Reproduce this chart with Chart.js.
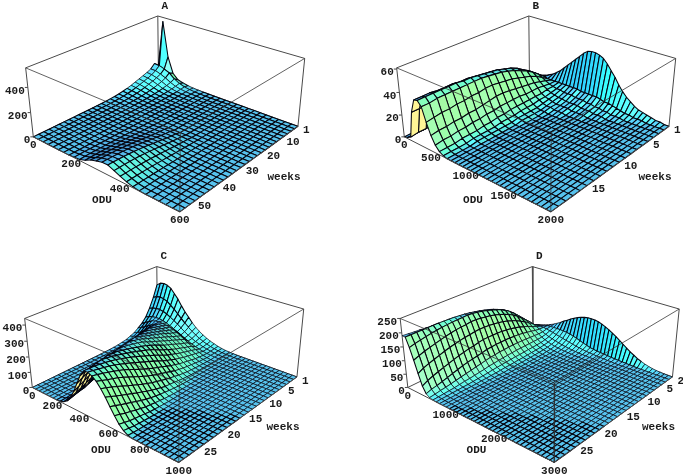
<!DOCTYPE html>
<html><head><meta charset="utf-8">
<script src="https://cdn.jsdelivr.net/npm/chart.js@4/dist/chart.umd.min.js"></script>
<style>html,body{margin:0;padding:0;background:#fff;overflow:hidden}
canvas{position:absolute;display:block}</style></head><body>
<canvas id="pA" width="341" height="238" style="left:0;top:0"></canvas>
<canvas id="pB" width="341" height="238" style="left:342px;top:0"></canvas>
<canvas id="pC" width="341" height="238" style="left:0;top:238px"></canvas>
<canvas id="pD" width="341" height="238" style="left:342px;top:238px"></canvas>
<script>
// rows = weeks (first to last), columns = ODU grid steps; omitted trailing values are 0
const titleA='A',weekRangeA=[1,55],oduMaxA=600,zMaxA=550,oduColsA=25;
const oduTicksA=[0,200,400,600],weekTicksA=[1,10,20,30,40,50],zTicksA=[0,200,400];
const surfaceA=[
[100,515,210,75,30,18,9,4,2,1],
[135,130,115,95,55,30,15,8,4,2,1],
[100,100,85,65,40,22,12,6,3,1],
[85,80,68,50,30,16,8,4,2,1],
[72,66,55,38,22,12,6,3,1],
[60,54,44,29,16,8,4,2,1],
[48,42,33,21,11,6,3,1],
[36,32,24,15,8,4,2,1],
[26,22,16,10,5,2,1],
[18,15,11,6,3,1],
[12,10,7,4,2,1],
[8,6,4,2,1],
[5,4,2,1],
[3,2,1,1],
[2,1,1,0,0,0,0,0,1,2,3,5,8,10,10,8,5,3,1],
[1,1,0,0,0,0,0,0,1,2,4,7,11,14,15,12,8,4,2,1],
[1,0,0,0,0,0,0,0,1,3,6,10,15,20,21,17,11,6,2,1],
[0,0,0,0,0,0,0,0,2,4,8,14,21,27,28,23,15,8,3,1],
[0,0,0,0,0,0,0,0,2,5,11,18,27,34,35,29,19,10,4,1],
[0,0,0,0,0,0,0,0,3,6,14,23,33,41,42,35,23,12,5,2],
[0,0,0,0,0,0,0,0,3,8,17,28,39,48,49,40,27,14,5,2],
[0,0,0,0,0,0,0,0,4,9,20,32,45,55,56,45,30,16,6,2],
[0,0,0,0,0,0,0,0,4,10,22,36,50,61,62,50,33,18,7,2],
[0,0,0,0,0,0,0,0,5,11,24,39,54,66,68,54,36,20,7,2],
[0,0,0,0,0,0,0,0,5,11,25,42,58,70,72,57,38,21,8,2],
[0,0,0,0,0,0,0,0,5,12,26,44,61,73,75,59,39,22,8,2],
[0,0,0,0,0,0,0,0,6,12,27,46,63,75,77,60,40,22,8,2],
[0,0,0,0,0,0,0,0,6,12,27,47,65,77,79,60,40,22,8,2],
[0,0,0,0,0,0,0,0,6,10,26,50,66,78,80,60,40,22,8,2]];

const titleB='B',weekRangeB=[1,20],oduMaxB=2000,zMaxB=61,oduColsB=36;
const oduTicksB=[0,500,1000,1500,2000],weekTicksB=[1,5,10,15],zTicksB=[0,20,40,60];
const surfaceB=[
[0,1,2,3,5,7,9,11,14,17,21,25,29,33,37,41,44,45,45,44,42,38,33,28,22,17,13,10,7,5,4,3,2,1,1],
[0,1,3,6,9,10,10,9,9,9,9,9,9,9,9,9,8,8,8,8,8,7,6,6,5,4,3,2,2,1,1,1],
[0,1,4,10,14,15,15,13,11,9,8,7,7,6,6,6,5,5,5,4,4,3,3,2,2,1,1,1],
[0,1,5,13,18,20,20,17,13,10,8,6,5,4,4,3,3,3,3,2,2,2,1,1,1],
[0,2,6,16,22,24,24,20,15,11,7,5,4,3,2,2,2,2,1,1,1,1],
[0,2,7,19,26,28,27,22,16,11,7,5,3,2,2,1,1,1],
[0,2,8,21,29,31,30,24,17,11,7,4,2,1,1],
[0,2,8,23,31,33,32,26,18,12,7,4,2,1],
[0,2,8,24,33,35,34,27,19,12,7,4,2,1],
[0,2,8,25,34,36,35,28,20,12,7,3,2,1],
[0,2,8,26,35,37,36,29,20,12,6,3,1],
[0,2,7,27,36,38,37,29,19,11,6,3,1],
[0,1,7,27,37,39,37,28,18,11,5,2,1],
[0,1,6,27,37,39,37,28,17,10,5,2,1],
[0,1,6,27,38,40,37,27,17,10,4,2,1],
[0,1,5,27,38,40,37,27,16,9,4,2,1],
[0,1,5,27,38,40,37,26,16,9,4,1],
[0,1,4,27,39,40,37,26,15,8,3,1],
[0,1,4,27,39,40,36,25,15,8,3,1],
[0,1,3,27,39,40,36,24,14,7,3,1]];

const titleC='C',weekRangeC=[1,29],oduMaxC=1000,zMaxC=440,oduColsC=36;
const oduTicksC=[0,200,400,600,800,1000],weekTicksC=[1,5,10,15,20,25],zTicksC=[0,100,200,300,400];
const surfaceC=[
[310,330,335,330,315,285,255,215,180,150,120,95,75,58,44,32,23,15,9,5,3,1],
[230,245,250,245,235,215,195,170,145,122,100,80,63,48,36,26,18,12,7,4,2,1],
[165,175,180,180,175,165,150,135,118,100,82,66,52,40,30,22,15,10,6,3,2,1],
[113,125,132,135,135,130,122,112,100,87,73,60,48,37,28,20,14,9,6,3,2,1],
[80,95,110,125,132,135,133,129,124,115,104,90,75,60,45,32,21,11,5,1],
[59,72,86,103,119,133,141,138,133,126,116,102,88,72,56,41,28,15,8,3,1],
[38,48,62,80,105,130,148,146,142,137,127,114,100,83,66,50,35,19,10,4,1],
[27,35,46,64,90,121,147,156,153,148,140,127,113,96,77,59,42,26,15,6,2],
[16,21,30,48,76,112,145,165,163,158,152,140,125,109,87,68,49,33,19,8,2],
[11,15,21,37,62,97,134,162,172,168,163,152,138,121,100,79,59,40,24,11,4,1],
[6,8,12,25,47,81,122,158,180,177,173,164,151,133,113,90,68,47,29,14,5,1],
[4,6,9,18,36,66,106,146,177,187,184,176,164,149,128,103,80,57,36,19,8,2],
[2,3,5,10,24,51,89,134,173,197,194,188,176,164,142,116,91,67,43,24,11,3],
[1,2,4,7,18,40,73,116,160,193,205,200,190,178,158,132,106,80,54,32,16,5],
[0,0,2,4,11,28,56,97,146,189,215,212,204,191,174,148,120,92,64,39,21,7],
[0,0,2,3,9,21,45,83,130,176,209,219,213,201,186,161,135,104,74,48,25,11,2],
[0,0,1,2,6,14,34,68,113,163,203,226,221,211,197,174,149,115,84,57,29,14,3],
[0,0,1,2,4,11,27,55,96,145,191,223,228,220,208,188,162,129,97,67,38,19,6,1],
[0,0,0,1,2,7,19,42,78,127,179,219,234,229,218,201,175,142,109,76,47,24,8,1],
[0,0,0,1,2,5,15,34,65,111,163,209,235,237,228,213,189,158,124,89,57,31,13,3],
[0,0,0,0,1,3,10,25,52,94,146,198,235,245,237,224,203,173,138,101,67,37,17,4],
[0,0,0,0,1,2,7,19,40,77,126,181,226,249,246,235,215,189,154,115,80,47,23,7,1],
[0,0,0,0,0,1,4,12,28,59,106,163,217,253,254,245,227,204,170,129,92,57,28,10,1],
[0,0,0,0,0,1,3,9,21,47,88,141,199,243,260,253,238,216,185,144,106,69,37,15,3],
[0,0,0,0,0,1,2,5,13,34,69,119,180,233,265,260,248,228,199,159,119,80,45,20,5],
[0,0,0,0,0,1,2,4,11,28,59,105,164,220,260,265,256,238,210,174,132,92,55,25,8,1],
[0,0,0,0,0,0,1,3,8,22,49,90,147,207,254,270,263,248,221,188,145,104,64,30,11,1],
[0,0,0,0,0,0,1,2,6,18,40,77,131,192,245,272,270,257,233,201,160,117,76,39,17,4],
[0,0,0,0,0,0,0,1,4,13,31,64,115,176,235,274,276,265,245,213,174,129,87,48,22,6]];

const titleD='D',weekRangeD=[2,29],oduMaxD=3000,zMaxD=250,oduColsD=40;
const oduTicksD=[0,1000,2000,3000],weekTicksD=[2,5,10,15,20,25],zTicksD=[0,50,100,150,200,250];
const surfaceD=[
[5,8,12,17,24,30,37,44,52,60,70,78,87,95,102,108,112,115,116,115,113,108,102,95,87,78,68,58,48,38,30,22,16,11,7,4,2,1],
[8,15,25,30,33,37,40,41,42,42,42,41,40,38,34,30,25,21,16,12,10,8,7,6,5,4,3,2,2,1,1],
[18,28,34,38,40,41,41,39,36,34,30,27,24,21,18,15,12,10,8,6,5,4,3,2,2,1,1],
[55,58,60,58,54,48,42,35,30,25,21,17,14,11,9,7,5,4,3,2,2,1,1],
[72,76,78,74,66,56,45,35,27,21,16,12,9,7,5,4,3,2,1,1],
[90,95,96,90,79,65,50,37,26,18,13,9,6,4,3,2,1,1],
[105,112,113,105,90,72,54,38,26,17,11,7,5,3,2,1,1],
[118,127,128,118,100,79,58,40,26,16,10,6,3,2,1,1],
[127,138,140,128,108,84,61,41,26,16,9,5,3,2,1],
[135,147,150,137,115,89,63,42,26,15,8,4,2,1],
[142,155,158,144,120,92,65,42,26,14,7,4,2,1],
[148,162,165,150,124,95,66,42,25,14,7,3,1],
[153,167,170,155,127,96,66,41,24,13,6,3,1],
[157,172,175,158,130,97,66,41,23,12,5,2,1],
[161,176,179,161,131,97,65,39,22,11,5,2,1],
[165,180,182,163,132,97,64,38,20,10,4,1],
[168,183,184,164,131,94,60,35,19,9,3,1],
[171,185,183,161,128,90,57,32,16,7,3,1],
[173,187,183,160,126,88,54,29,14,6,2,1],
[175,188,182,158,123,84,51,26,12,5,2],
[177,189,181,155,119,80,47,23,10,4,1],
[179,190,179,151,115,75,42,20,9,3,1],
[181,190,177,147,110,69,37,17,7,3,1],
[183,190,174,142,104,64,32,14,5,2,1],
[185,190,171,137,98,58,27,11,4,2],
[186,190,167,132,92,52,22,9,3,1],
[188,190,163,125,85,45,18,6,2,1],
[190,190,158,118,75,35,12,4,1]];

// camera: screen position of the eight box corners (u=ODU, w=weeks, h=height) for the first panel
const corners=[[0,1,0,33.3,136.7],[0,1,1,25.7,68.3],[1,0,0,297.7,126],[1,0,1,305,59],
[1,1,0,180,212.3],[1,1,1,180,131.7],[0,0,1,157.7,15.7],[0,0,0,158.5,76]];
function solveCamera(){
  const N=11,A=Array.from({length:N},()=>new Array(N+1).fill(0));
  const add=(r,b)=>{for(let i=0;i<N;i++){for(let k=0;k<N;k++)A[i][k]+=r[i]*r[k];A[i][N]+=r[i]*b;}};
  corners.forEach(([u,w,h,x,y])=>{
    add([u,w,h,1,0,0,0,0,-x*u,-x*w,-x*h],x);
    add([0,0,0,0,u,w,h,1,-y*u,-y*w,-y*h],y);
  });
  for(let c=0;c<N;c++){
    let p=c;for(let r=c+1;r<N;r++)if(Math.abs(A[r][c])>Math.abs(A[p][c]))p=r;
    [A[c],A[p]]=[A[p],A[c]];
    for(let r=0;r<N;r++){if(r===c)continue;const f=A[r][c]/A[c][c];for(let k=c;k<=N;k++)A[r][k]-=f*A[c][k];}
  }
  return A.map((row,i)=>row[N]/row[i]);
}
const P=solveCamera();
function project(u,w,h){
  const d=P[8]*u+P[9]*w+P[10]*h+1;
  return [(P[0]*u+P[1]*w+P[2]*h+P[3])/d,(P[4]*u+P[5]*w+P[6]*h+P[7])/d];
}
const vV=[.52,.655,.543];
const dot=(a,b)=>a[0]*b[0]+a[1]*b[1]+a[2]*b[2];
function shade(a,b,c,d){
  const m=p=>[p[0],p[1],p[2]*.4];
  const A=m(a),B=m(b),C=m(c),D=m(d);
  const e=[C[0]-A[0],C[1]-A[1],C[2]-A[2]],f=[D[0]-B[0],D[1]-B[1],D[2]-B[2]];
  let n=[e[1]*f[2]-e[2]*f[1],e[2]*f[0]-e[0]*f[2],e[0]*f[1]-e[1]*f[0]];
  const L=Math.hypot(...n)||1;n=n.map(v=>v/L);
  if(n[2]<0)n=n.map(v=>-v);
  if(dot(n,vV)<0)return 'rgb(255,245,150)'; // seen from below
  const [nu,nw,nh]=n;
  const pu=Math.max(0,nu),qu=Math.min(0,nu),pw=Math.max(0,nw),qw=Math.min(0,nw);
  const cl=x=>Math.round(255*Math.min(1,Math.max(0,x)));
  const r=.34*nh+.6*nu*Math.abs(nu)+.12*pw;
  const g=Math.min(.76*nh+.75*pu+.4*qu+.7*pw+.15*qw,.85+pu);
  const bl=.93*Math.pow(nh,2.4)+.65*pu*pu+1.0*pw+.3*qw+.25*Math.abs(qw);
  return `rgb(${cl(r)},${cl(g)},${cl(bl)})`;
}
const LABEL_FONT='bold 11px "Liberation Mono", monospace';
function panel(id,shift,origin,title,surface,oduCols,oduMax,weekRange,zMax,oduTicks,weekTicks,zTicks){
  const sx=shift[0]-origin[0],sy=shift[1]-origin[1];
  const pt=(u,w,h)=>{const q=project(u,w,h);return {x:q[0]+sx,y:q[1]+sy};};
  const rows=surface.length,cols=oduCols+1;
  const cell=(i,j)=>[j/oduCols,i/(rows-1),((surface[i][j])||0)/zMax];
  const back=[],mid=[],front=[];
  const seg=(list,a,b,col,lw)=>list.push({data:[a,b],showLine:true,borderColor:col,borderWidth:lw,pointRadius:0,fill:false,clip:false});
  const BOX='#4a4a4a';
  seg(back,pt(0,1,1),pt(0,0,1),BOX,1);seg(back,pt(0,0,1),pt(1,0,1),BOX,1);
  seg(back,pt(0,0,1),pt(0,0,0),BOX,1);seg(back,pt(0,1,1),pt(0,1,0),BOX,1);seg(back,pt(1,0,1),pt(1,0,0),BOX,1);
  seg(back,pt(0,1,0),pt(0,0,0),BOX,1);seg(back,pt(1,0,0),pt(0,0,0),BOX,1);
  for(let i=0;i<rows-1;i++)for(let j=0;j<cols-1;j++){
    const a=cell(i,j),b=cell(i,j+1),c=cell(i+1,j+1),d=cell(i+1,j);
    const poly=[a,b,c,d,a].map(p=>pt(p[0],p[1],p[2]));
    const span=Math.max(Math.hypot(poly[0].x-poly[2].x,poly[0].y-poly[2].y),Math.hypot(poly[1].x-poly[3].x,poly[1].y-poly[3].y));
    mid.push({data:poly,showLine:true,fill:'shape',backgroundColor:shade(a,b,c,d),borderColor:'#05050f',borderWidth:span<9?.7:1.05,
      borderJoinStyle:'round',pointRadius:0,clip:false});
  }
  const FR='rgba(45,45,45,.75)';
  seg(front,pt(0,1,1),pt(1,1,1),FR,1);seg(front,pt(1,0,1),pt(1,1,1),FR,1);seg(front,pt(1,1,1),pt(1,1,0),FR,1);
  seg(front,pt(0,1,0),pt(1,1,0),BOX,1);seg(front,pt(1,0,0),pt(1,1,0),BOX,1);
  zTicks.forEach(z=>{const a=pt(0,1,z/zMax);seg(front,a,{x:a.x-3,y:a.y},BOX,1);});
  // first dataset is painted last
  const datasets=[...back,...mid,...front].reverse();
  const labels={id:'labels',afterDatasetsDraw(ch){
    const g=ch.ctx;g.save();g.font=LABEL_FONT;g.fillStyle='#1a1a1a';g.textBaseline='middle';
    const put=(t,x,y,al)=>{g.textAlign=al;g.fillText(String(t),x,y);};
    zTicks.forEach(z=>{const a=pt(0,1,z/zMax);put(z,a.x-3,a.y+3.5,'right');});
    oduTicks.forEach((o,k)=>{const a=pt(o/oduMax,1,0);const end=k===0||k===oduTicks.length-1;
      put(o,a.x+(end?0:-5),a.y+(end?8.5:5.5),'center');});
    weekTicks.forEach(w=>{const a=pt(1,(w-weekRange[0])/(weekRange[1]-weekRange[0]),0);put(w,a.x+5,a.y+4,'left');});
    const top=pt(0,0,1);put(title,top.x+7,top.y-10,'center');
    put('ODU',102+sx,200+sy,'center');put('weeks',284+sx,177+sy,'center');
    g.restore();
  }};
  new Chart(document.getElementById(id),{type:'scatter',data:{datasets},plugins:[labels],options:{
    responsive:false,animation:false,events:[],parsing:false,normalized:true,
    layout:{padding:0},
    plugins:{legend:{display:false},tooltip:{enabled:false},title:{display:false}},
    scales:{x:{type:'linear',display:false,min:0,max:341},y:{type:'linear',display:false,min:0,max:238,reverse:true}}
  }});
}
panel('pA',[0,0],[0,0],titleA,surfaceA,oduColsA,oduMaxA,weekRangeA,zMaxA,oduTicksA,weekTicksA,zTicksA);
panel('pB',[371,0],[342,0],titleB,surfaceB,oduColsB,oduMaxB,weekRangeB,zMaxB,oduTicksB,weekTicksB,zTicksB);
panel('pC',[-1,250.6],[0,238],titleC,surfaceC,oduColsC,oduMaxC,weekRangeC,zMaxC,oduTicksC,weekTicksC,zTicksC);
panel('pD',[374.5,250.6],[342,238],titleD,surfaceD,oduColsD,oduMaxD,weekRangeD,zMaxD,oduTicksD,weekTicksD,zTicksD);
</script></body></html>
